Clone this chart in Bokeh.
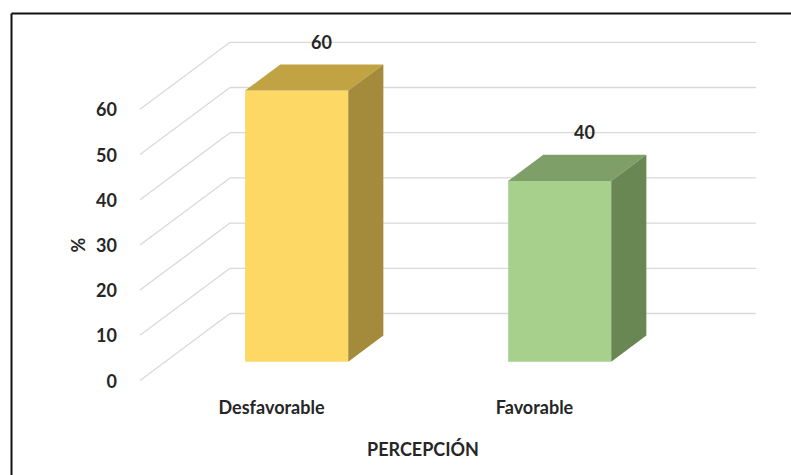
from bokeh.plotting import figure
from bokeh.models import Range1d, LinearAxis, FixedTicker, ColumnDataSource
from bokeh.embed import file_html
from bokeh.resources import INLINE
from bokeh.core.properties import value

# ---- data -------------------------------------------------------------
categories = ["Desfavorable", "Favorable"]
percentages = [60, 40]
y_ticks = [0, 10, 20, 30, 40, 50, 60]

front_colors = ["#FED865", "#A8D08D"]
top_colors = ["#C2A343", "#7E9F67"]
side_colors = ["#A38B3B", "#688753"]

# ---- layout (pixels) --------------------------------------------------
W, H = 791, 475
X0_PX = 139.5      # front-left corner of the floor
CAT_PX = 263.0     # pixels per category slot
Y0_PX = 380.0      # front baseline, from the top of the canvas
UNIT_PX = 4.52     # pixels per percentage point

# oblique depth of the 3-D box, in data units
DX = 90.0 / CAT_PX
DY = 67.0 / UNIT_PX
F0, F1 = 0.28, 0.67     # front / back of the columns inside the depth
BAR_W = 0.392

FONT_NAME = "Lato"
FONT = value(FONT_NAME)
FONT_SIZE = "18px"
TXT = "#262626"


def px_x(px):
    return (px - X0_PX) / CAT_PX


def px_y(py):
    return (Y0_PX - py) / UNIT_PX


def proj(x, y, f):
    return x + f * DX, y + f * DY


p = figure(width=W, height=H,
           x_range=Range1d(px_x(0), px_x(W)),
           y_range=Range1d(px_y(H), px_y(0)),
           x_axis_type=None, y_axis_type=None,
           output_backend="svg", toolbar_location=None,
           min_border=0, min_border_left=0, min_border_right=0,
           min_border_top=0, min_border_bottom=0)
p.outline_line_color = None
p.background_fill_color = "white"
p.border_fill_color = "white"

n_cat = len(categories)

# side-wall and back-wall gridlines
gx, gy = [], []
for t in y_ticks:
    bx, by = proj(0, t, 1.0)
    gx.append([0, bx]); gy.append([t, by])
    ex, ey = proj(n_cat, t, 1.0)
    gx.append([bx, ex]); gy.append([by, ey])
p.multi_line(gx, gy, line_color="#D9D9D9", line_width=1.3)

# 3-D columns: front, top and right side faces
fx, fy, tx, ty, sx, sy = [], [], [], [], [], []
for i, v in enumerate(percentages):
    c = i + 0.5
    l, r = c - BAR_W / 2, c + BAR_W / 2
    front = [proj(l, 0, F0), proj(r, 0, F0), proj(r, v, F0), proj(l, v, F0)]
    top = [proj(l, v, F0), proj(r, v, F0), proj(r, v, F1), proj(l, v, F1)]
    side = [proj(r, 0, F0), proj(r, 0, F1), proj(r, v, F1), proj(r, v, F0)]
    fx.append([q[0] for q in front]); fy.append([q[1] for q in front])
    tx.append([q[0] for q in top]); ty.append([q[1] for q in top])
    sx.append([q[0] for q in side]); sy.append([q[1] for q in side])

p.patches(fx, fy, fill_color=front_colors, line_color=None)
p.patches(tx, ty, fill_color=top_colors, line_color=None)
p.patches(sx, sy, fill_color=side_colors, line_color=None)

# value labels above the columns
lbl = ColumnDataSource(dict(
    x=[i + 0.5 + 0.19 for i in range(n_cat)],
    y=[v + 15.0 for v in percentages],
    t=[str(v) for v in percentages],
))
p.text("x", "y", text="t", source=lbl, text_font=FONT, text_font_style="bold",
       text_font_size=FONT_SIZE, text_color=TXT, text_align="center",
       text_baseline="middle")

# frame lines on the top and left edges of the picture
p.segment(x0=[px_x(11), px_x(11)], y0=[px_y(13), px_y(13)],
          x1=[px_x(11), px_x(W)], y1=[px_y(H), px_y(13)],
          line_color="#111111", line_width=2)

# axes
yaxis = LinearAxis(fixed_location=0, ticker=FixedTicker(ticks=y_ticks),
                   bounds=(0, 60), axis_label="%")
xaxis = LinearAxis(fixed_location=0,
                   ticker=FixedTicker(ticks=[i + 0.5 for i in range(n_cat)]),
                   major_label_overrides={i + 0.5: c for i, c in enumerate(categories)},
                   bounds=(0, 2.15), axis_label="PERCEPCIÓN")
for ax in (xaxis, yaxis):
    ax.axis_line_color = None
    ax.major_tick_line_color = None
    ax.minor_tick_line_color = None
    ax.major_tick_out = 0
    ax.major_tick_in = 0
    ax.major_label_text_font = FONT_NAME
    ax.major_label_text_font_style = "bold"
    ax.major_label_text_font_size = FONT_SIZE
    ax.major_label_text_color = TXT
    ax.axis_label_text_font = FONT_NAME
    ax.axis_label_text_font_style = "bold"
    ax.axis_label_text_font_size = FONT_SIZE
    ax.axis_label_text_color = TXT
yaxis.major_label_standoff = 23
yaxis.axis_label_standoff = 5
xaxis.major_label_standoff = 15
xaxis.axis_label_standoff = 17
p.add_layout(yaxis, "left")
p.add_layout(xaxis, "below")

open("out.html", "w").write(file_html(p, INLINE))
